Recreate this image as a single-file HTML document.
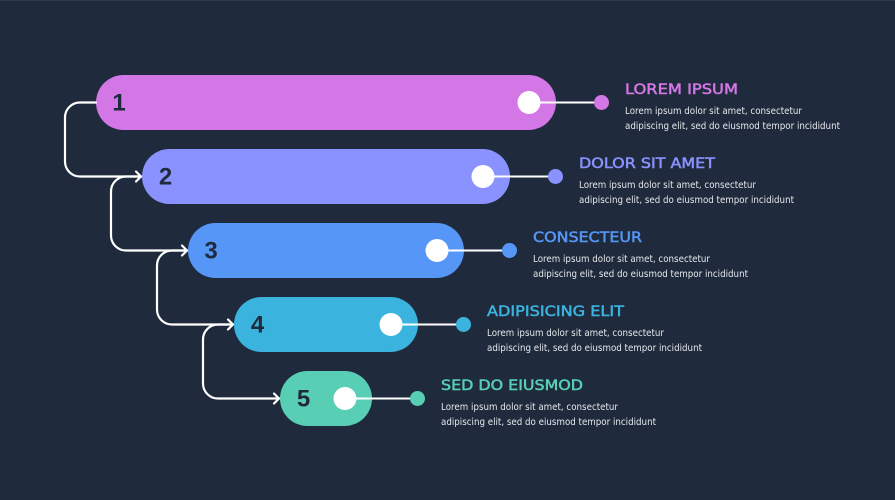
<!DOCTYPE html>
<html>
<head>
<meta charset="utf-8">
<style>
html,body{margin:0;padding:0;background:#1f2a3c}
svg{display:block}
.t{font-family:"DejaVu Sans","Liberation Sans",sans-serif;font-size:14px;font-weight:normal;stroke-width:.5px}
.b{font-family:"DejaVu Sans","Liberation Sans",sans-serif;font-size:9.6px;fill:#e6e8ec}
.n{font-family:"Liberation Sans",sans-serif;font-size:24px;font-weight:bold;fill:#1f2a3c;text-anchor:middle}
</style>
</head>
<body>
<svg width="895" height="500" viewBox="0 0 895 500" xmlns="http://www.w3.org/2000/svg">
<rect width="895" height="500" fill="#1f2a3c"/>
<rect width="895" height="1" fill="#2f3a4c"/>

<rect x="96" y="75" width="460" height="55" rx="27.5" fill="#d477e6"/>
<rect x="142" y="149" width="368" height="55" rx="27.5" fill="#8a92ff"/>
<rect x="188" y="223" width="276" height="55" rx="27.5" fill="#5596f6"/>
<rect x="234" y="297" width="184" height="55" rx="27.5" fill="#3ab4de"/>
<rect x="280" y="371" width="92" height="55" rx="27.5" fill="#58cfb5"/>

<g fill="none" stroke="#fff" stroke-width="2.2" stroke-linecap="round" stroke-linejoin="round">
<path d="M96 102.500H80a15 15 0 0 0-15 15V161.500a15 15 0 0 0 15 15H141"/>
<path d="M136 171.500l5 5-5 5"/>
<path d="M141 176.500H126a15 15 0 0 0-15 15V235.500a15 15 0 0 0 15 15H187"/>
<path d="M182 245.500l5 5-5 5"/>
<path d="M187 250.500H172a15 15 0 0 0-15 15V309.500a15 15 0 0 0 15 15H233"/>
<path d="M228 319.500l5 5-5 5"/>
<path d="M233 324.500H218a15 15 0 0 0-15 15V383.500a15 15 0 0 0 15 15H279"/>
<path d="M274 393.500l5 5-5 5"/>
</g>

<g stroke="#fff" stroke-width="2">
<line x1="529" y1="102.500" x2="601" y2="102.500"/>
<line x1="483" y1="176.500" x2="555" y2="176.500"/>
<line x1="437" y1="250.500" x2="509" y2="250.500"/>
<line x1="391" y1="324.500" x2="463" y2="324.500"/>
<line x1="345" y1="398.500" x2="417" y2="398.500"/>
</g>
<g fill="#fff">
<circle cx="529" cy="102.500" r="11.500"/>
<circle cx="483" cy="176.500" r="11.500"/>
<circle cx="437" cy="250.500" r="11.500"/>
<circle cx="391" cy="324.500" r="11.500"/>
<circle cx="345" cy="398.500" r="11.500"/>
</g>
<circle cx="601.500" cy="102.500" r="7.500" fill="#d477e6"/>
<circle cx="555.500" cy="176.500" r="7.500" fill="#8a92ff"/>
<circle cx="509.500" cy="250.500" r="7.500" fill="#5596f6"/>
<circle cx="463.500" cy="324.500" r="7.500" fill="#3ab4de"/>
<circle cx="417.500" cy="398.500" r="7.500" fill="#58cfb5"/>

<text class="n" x="119" y="110.500">1</text>
<text class="n" x="165.500" y="184.500">2</text>
<text class="n" x="211" y="258.500">3</text>
<text class="n" x="257.500" y="332.500">4</text>
<text class="n" x="303.500" y="406.500">5</text>

<text class="t" x="625" y="94" textLength="113" lengthAdjust="spacingAndGlyphs" fill="#d477e6" stroke="#d477e6">LOREM IPSUM</text>
<text class="b" x="625" y="114" textLength="177" lengthAdjust="spacingAndGlyphs">Lorem ipsum dolor sit amet, consectetur</text>
<text class="b" x="625" y="129" textLength="215" lengthAdjust="spacingAndGlyphs">adipiscing elit, sed do eiusmod tempor incididunt</text>

<text class="t" x="579" y="168" textLength="136" lengthAdjust="spacingAndGlyphs" fill="#8a92ff" stroke="#8a92ff">DOLOR SIT AMET</text>
<text class="b" x="579" y="188" textLength="177" lengthAdjust="spacingAndGlyphs">Lorem ipsum dolor sit amet, consectetur</text>
<text class="b" x="579" y="203" textLength="215" lengthAdjust="spacingAndGlyphs">adipiscing elit, sed do eiusmod tempor incididunt</text>

<text class="t" x="533" y="242" textLength="109" lengthAdjust="spacingAndGlyphs" fill="#5596f6" stroke="#5596f6">CONSECTEUR</text>
<text class="b" x="533" y="262" textLength="177" lengthAdjust="spacingAndGlyphs">Lorem ipsum dolor sit amet, consectetur</text>
<text class="b" x="533" y="277" textLength="215" lengthAdjust="spacingAndGlyphs">adipiscing elit, sed do eiusmod tempor incididunt</text>

<text class="t" x="487" y="316" textLength="137" lengthAdjust="spacingAndGlyphs" fill="#3ab4de" stroke="#3ab4de">ADIPISICING ELIT</text>
<text class="b" x="487" y="336" textLength="177" lengthAdjust="spacingAndGlyphs">Lorem ipsum dolor sit amet, consectetur</text>
<text class="b" x="487" y="351" textLength="215" lengthAdjust="spacingAndGlyphs">adipiscing elit, sed do eiusmod tempor incididunt</text>

<text class="t" x="441" y="390" textLength="142" lengthAdjust="spacingAndGlyphs" fill="#58cfb5" stroke="#58cfb5">SED DO EIUSMOD</text>
<text class="b" x="441" y="410" textLength="177" lengthAdjust="spacingAndGlyphs">Lorem ipsum dolor sit amet, consectetur</text>
<text class="b" x="441" y="425" textLength="215" lengthAdjust="spacingAndGlyphs">adipiscing elit, sed do eiusmod tempor incididunt</text>
</svg>
</body>
</html>
